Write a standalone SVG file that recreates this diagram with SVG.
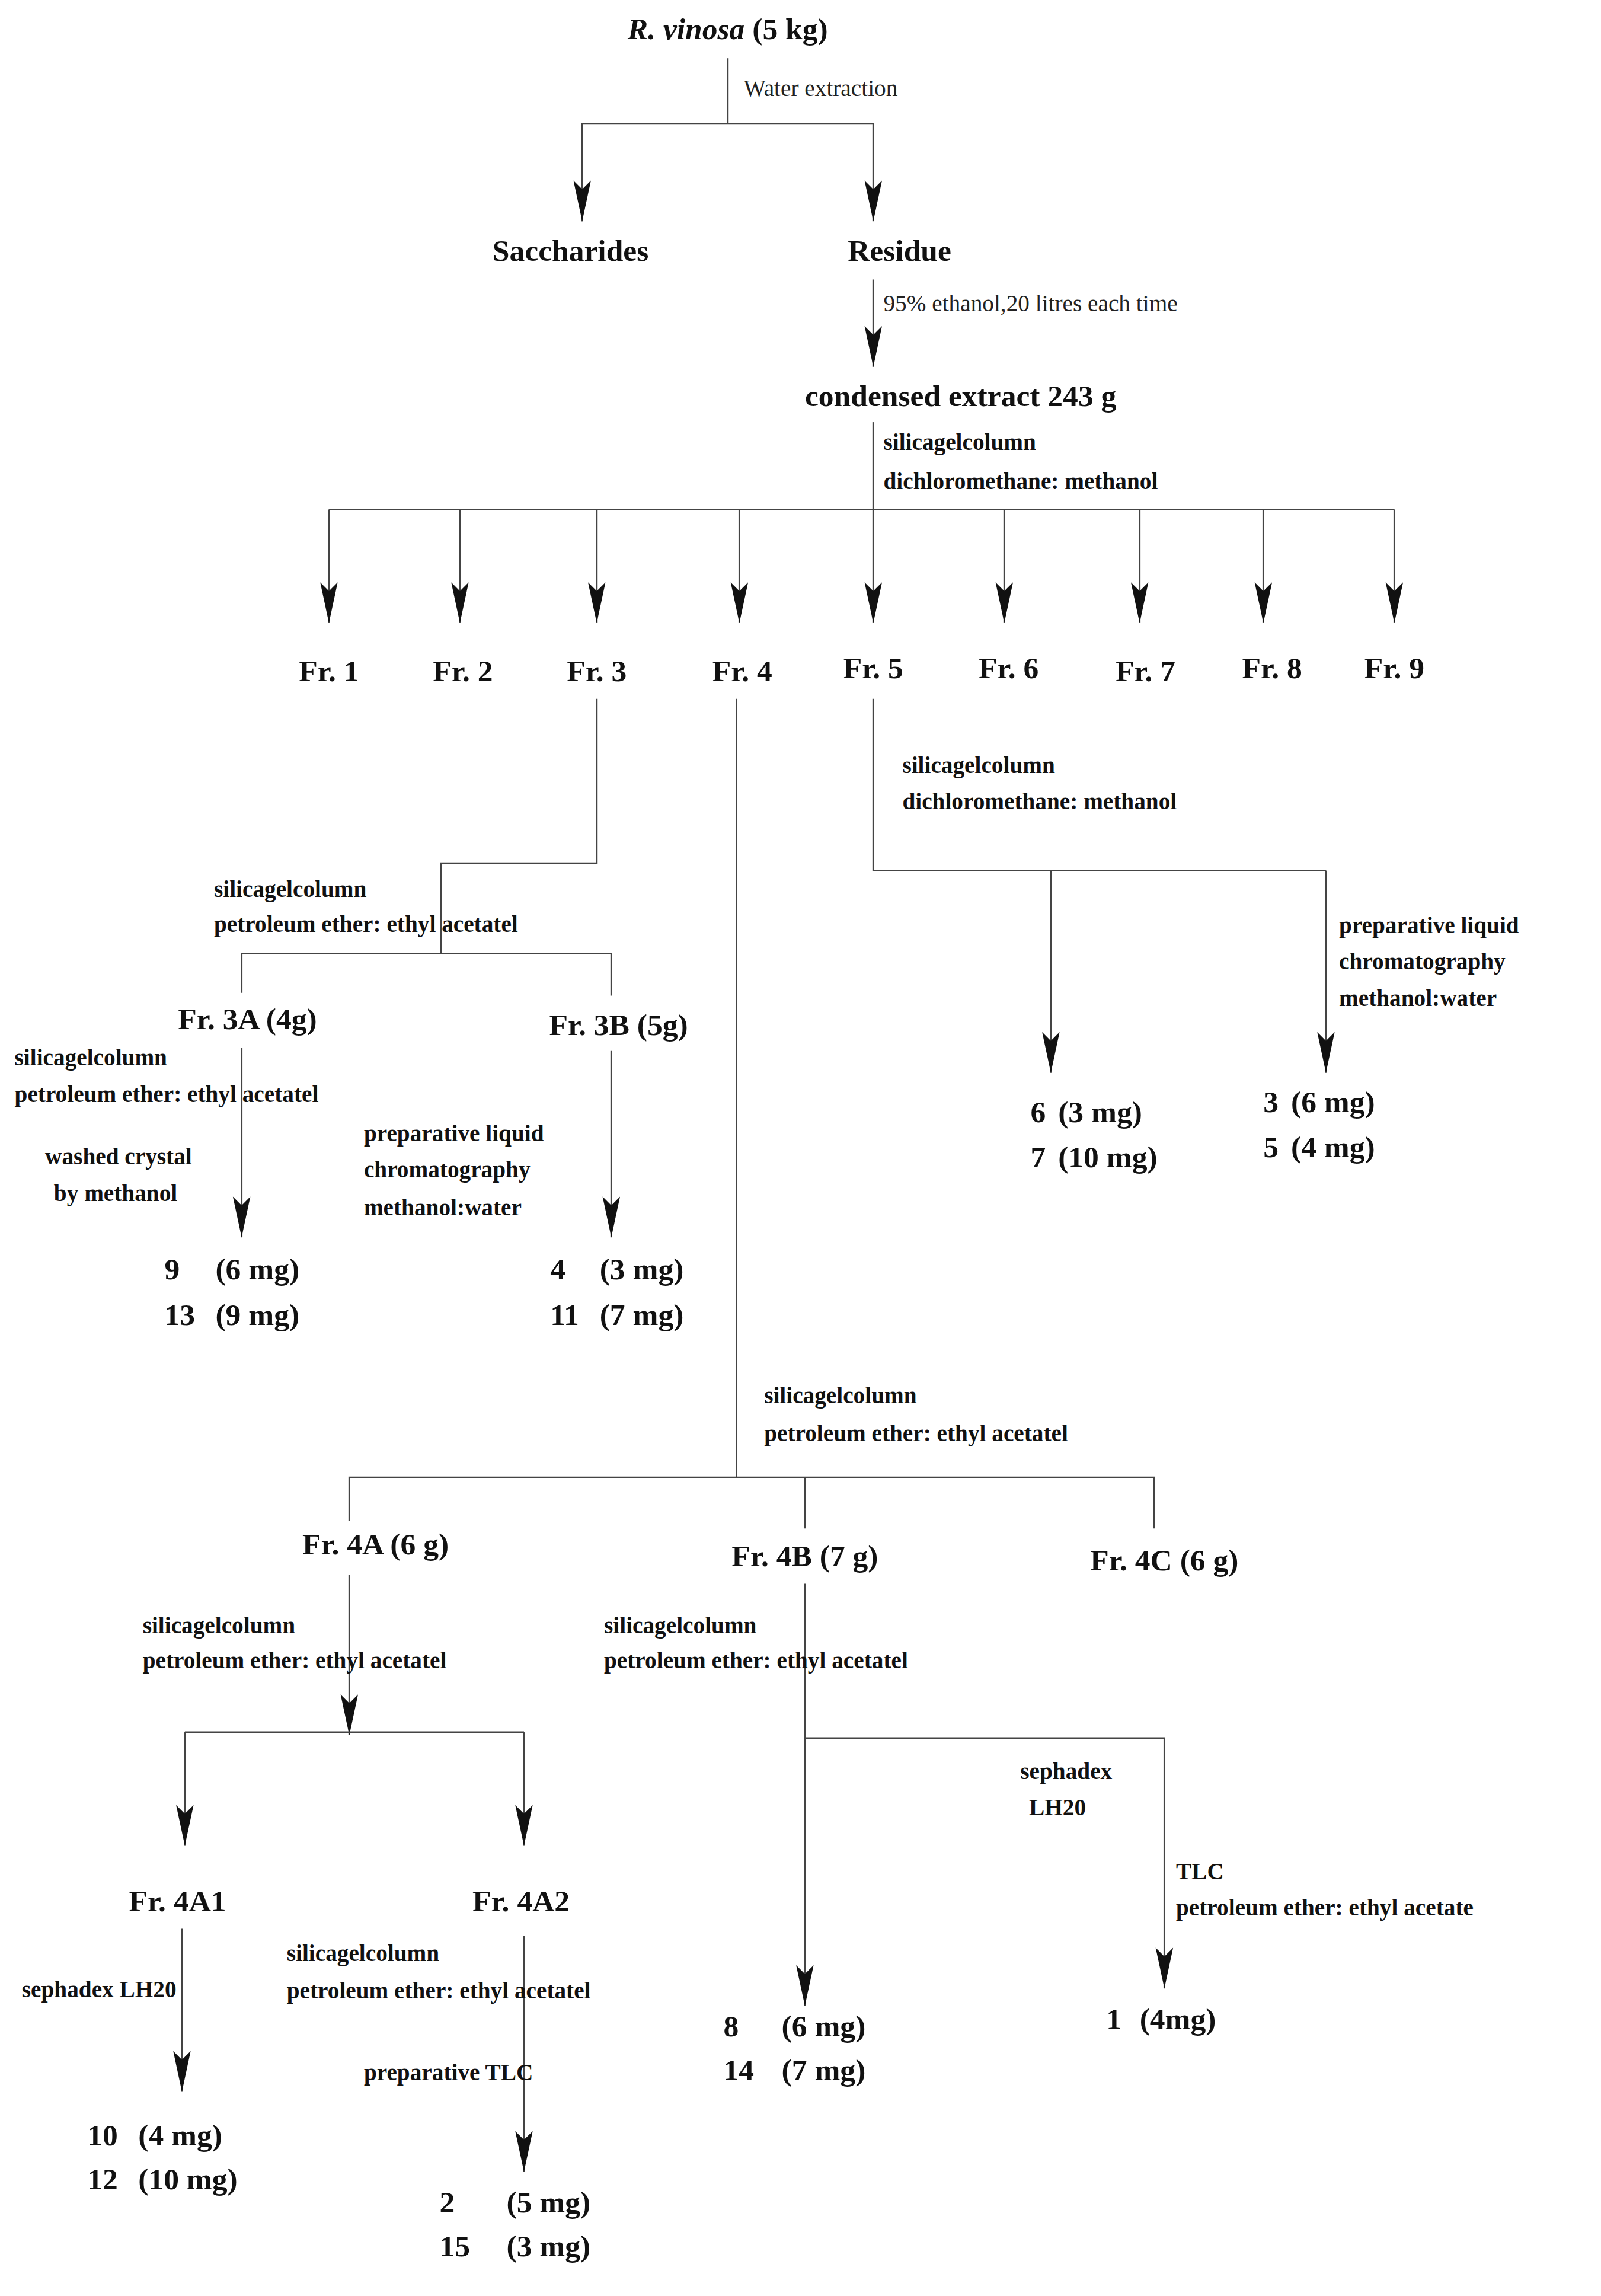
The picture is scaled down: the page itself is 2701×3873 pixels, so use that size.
<svg xmlns="http://www.w3.org/2000/svg" width="2701" height="3873" viewBox="0 0 2701 3873">
<style>
.n{font-family:"Liberation Serif",serif;font-weight:bold;font-size:21px;fill:#111}
.l{font-family:"Liberation Serif",serif;font-weight:bold;font-size:16px;fill:#111}
.w{font-family:"Liberation Serif",serif;font-size:16px;fill:#222}
.c line,.c polyline{stroke:#444;stroke-width:1.2;fill:none}
.a{marker-end:url(#ah)}
</style>
<defs>
<marker id="ah" markerUnits="userSpaceOnUse" markerWidth="30" markerHeight="14" viewBox="-28 -7 30 14" refX="0" refY="0" orient="auto">
<path d="M0,0 L-28,-6 L-22,0 L-28,6 Z" fill="#111"/>
</marker>
</defs>
<rect width="2701" height="3873" fill="#fff"/>
<g transform="scale(2.4555)">
<g id="connectors" class="c">
<line x1="500" y1="40" x2="500" y2="85"/>
<polyline points="400,152 400,85 600,85 600,152" class="a"/>
<line x1="400" y1="85" x2="400" y2="152" class="a"/>
<line x1="600" y1="192" x2="600" y2="252" class="a"/>
<line x1="600" y1="290" x2="600" y2="350"/>
<line x1="226" y1="350" x2="958" y2="350"/>
<line x1="226" y1="350" x2="226" y2="428" class="a"/>
<line x1="316" y1="350" x2="316" y2="428" class="a"/>
<line x1="410" y1="350" x2="410" y2="428" class="a"/>
<line x1="508" y1="350" x2="508" y2="428" class="a"/>
<line x1="600" y1="350" x2="600" y2="428" class="a"/>
<line x1="690" y1="350" x2="690" y2="428" class="a"/>
<line x1="783" y1="350" x2="783" y2="428" class="a"/>
<line x1="868" y1="350" x2="868" y2="428" class="a"/>
<line x1="958" y1="350" x2="958" y2="428" class="a"/>
<polyline points="410,480 410,593 303,593 303,655"/>
<polyline points="166,682 166,655 420,655 420,684"/>
<line x1="166" y1="720" x2="166" y2="850" class="a"/>
<line x1="420" y1="722" x2="420" y2="850" class="a"/>
<polyline points="600,480 600,598 911,598"/>
<line x1="722" y1="598" x2="722" y2="737" class="a"/>
<line x1="911" y1="598" x2="911" y2="737" class="a"/>
<line x1="506" y1="480" x2="506" y2="1015"/>
<polyline points="240,1045 240,1015 793,1015 793,1050"/>
<line x1="553" y1="1015" x2="553" y2="1050"/>
<line x1="240" y1="1082" x2="240" y2="1192" class="a"/>
<line x1="127" y1="1190" x2="360" y2="1190"/>
<line x1="127" y1="1190" x2="127" y2="1268" class="a"/>
<line x1="360" y1="1190" x2="360" y2="1268" class="a"/>
<line x1="125" y1="1325" x2="125" y2="1437" class="a"/>
<line x1="360" y1="1330" x2="360" y2="1492" class="a"/>
<line x1="553" y1="1088" x2="553" y2="1378" class="a"/>
<polyline points="553,1194 800,1194 800,1366" class="a"/>
</g>
<g id="n-root"><text class="n" x="500" y="27" text-anchor="middle"><tspan font-style="italic">R. vinosa</tspan> (5 kg)</text></g>
<text class="w" x="511" y="66">Water extraction</text>
<g id="n-sacch"><text class="n" x="392" y="179" text-anchor="middle">Saccharides</text></g>
<g id="n-res"><text class="n" x="618" y="179" text-anchor="middle">Residue</text></g>
<text class="w" x="607" y="214">95% ethanol,20 litres each time</text>
<g id="n-extract"><text class="n" x="660" y="279" text-anchor="middle">condensed extract 243 g</text></g>
<text class="l" x="607" y="309">silicagelcolumn</text>
<text class="l" x="607" y="336">dichloromethane: methanol</text>
<g id="n-fr1"><text class="n" x="226" y="468" text-anchor="middle">Fr. 1</text></g>
<g id="n-fr2"><text class="n" x="318" y="468" text-anchor="middle">Fr. 2</text></g>
<g id="n-fr3"><text class="n" x="410" y="468" text-anchor="middle">Fr. 3</text></g>
<g id="n-fr4"><text class="n" x="510" y="468" text-anchor="middle">Fr. 4</text></g>
<g id="n-fr5"><text class="n" x="600" y="466" text-anchor="middle">Fr. 5</text></g>
<g id="n-fr6"><text class="n" x="693" y="466" text-anchor="middle">Fr. 6</text></g>
<g id="n-fr7"><text class="n" x="787" y="468" text-anchor="middle">Fr. 7</text></g>
<g id="n-fr8"><text class="n" x="874" y="466" text-anchor="middle">Fr. 8</text></g>
<g id="n-fr9"><text class="n" x="958" y="466" text-anchor="middle">Fr. 9</text></g>
<text class="l" x="147" y="616">silicagelcolumn</text>
<text class="l" x="147" y="640">petroleum ether: ethyl acetatel</text>
<g id="n-fr3a"><text class="n" x="170" y="707" text-anchor="middle">Fr. 3A (4g)</text></g>
<g id="n-fr3b"><text class="n" x="425" y="711" text-anchor="middle">Fr. 3B (5g)</text></g>
<text class="l" x="10" y="732">silicagelcolumn</text>
<text class="l" x="10" y="757">petroleum ether: ethyl acetatel</text>
<text class="l" x="31" y="800">washed crystal</text>
<text class="l" x="37" y="825">by methanol</text>
<text class="l" x="250" y="784">preparative liquid</text>
<text class="l" x="250" y="809">chromatography</text>
<text class="l" x="250" y="835">methanol:water</text>
<g id="n-c9"><text class="n" x="113" y="879">9</text><text class="n" x="148" y="879">(6 mg)</text><text class="n" x="113" y="910">13</text><text class="n" x="148" y="910">(9 mg)</text></g>
<g id="n-c4"><text class="n" x="378" y="879">4</text><text class="n" x="412" y="879">(3 mg)</text><text class="n" x="378" y="910">11</text><text class="n" x="412" y="910">(7 mg)</text></g>
<text class="l" x="620" y="531">silicagelcolumn</text>
<text class="l" x="620" y="556">dichloromethane: methanol</text>
<text class="l" x="920" y="641">preparative liquid</text>
<text class="l" x="920" y="666">chromatography</text>
<text class="l" x="920" y="691">methanol:water</text>
<g id="n-c6"><text class="n" x="708" y="771">6</text><text class="n" x="727" y="771">(3 mg)</text><text class="n" x="708" y="802">7</text><text class="n" x="727" y="802">(10 mg)</text></g>
<g id="n-c3"><text class="n" x="868" y="764">3</text><text class="n" x="887" y="764">(6 mg)</text><text class="n" x="868" y="795">5</text><text class="n" x="887" y="795">(4 mg)</text></g>
<text class="l" x="525" y="964">silicagelcolumn</text>
<text class="l" x="525" y="990">petroleum ether: ethyl acetatel</text>
<g id="n-fr4a"><text class="n" x="258" y="1068" text-anchor="middle">Fr. 4A (6 g)</text></g>
<g id="n-fr4b"><text class="n" x="553" y="1076" text-anchor="middle">Fr. 4B (7 g)</text></g>
<g id="n-fr4c"><text class="n" x="800" y="1079" text-anchor="middle">Fr. 4C (6 g)</text></g>
<text class="l" x="98" y="1122">silicagelcolumn</text>
<text class="l" x="98" y="1146">petroleum ether: ethyl acetatel</text>
<text class="l" x="415" y="1122">silicagelcolumn</text>
<text class="l" x="415" y="1146">petroleum ether: ethyl acetatel</text>
<g id="n-fr4a1"><text class="n" x="122" y="1313" text-anchor="middle">Fr. 4A1</text></g>
<g id="n-fr4a2"><text class="n" x="358" y="1313" text-anchor="middle">Fr. 4A2</text></g>
<text class="l" x="15" y="1372">sephadex LH20</text>
<text class="l" x="197" y="1347">silicagelcolumn</text>
<text class="l" x="197" y="1373">petroleum ether: ethyl acetatel</text>
<text class="l" x="250" y="1429">preparative TLC</text>
<g id="n-c10"><text class="n" x="60" y="1474">10</text><text class="n" x="95" y="1474">(4 mg)</text><text class="n" x="60" y="1504">12</text><text class="n" x="95" y="1504">(10 mg)</text></g>
<g id="n-c2"><text class="n" x="302" y="1520">2</text><text class="n" x="348" y="1520">(5 mg)</text><text class="n" x="302" y="1550">15</text><text class="n" x="348" y="1550">(3 mg)</text></g>
<text class="l" x="701" y="1222">sephadex</text>
<text class="l" x="707" y="1247">LH20</text>
<text class="l" x="808" y="1291">TLC</text>
<text class="l" x="808" y="1316">petroleum ether: ethyl acetate</text>
<g id="n-c8"><text class="n" x="497" y="1399">8</text><text class="n" x="537" y="1399">(6 mg)</text><text class="n" x="497" y="1429">14</text><text class="n" x="537" y="1429">(7 mg)</text></g>
<g id="n-c1"><text class="n" x="760" y="1394">1</text><text class="n" x="783" y="1394">(4mg)</text></g>
</g>
</svg>
